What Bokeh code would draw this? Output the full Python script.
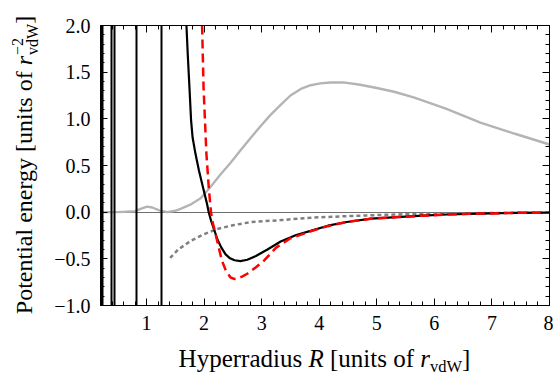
from bokeh.plotting import figure
from bokeh.layouts import row, column
from bokeh.models import Range1d, FixedTicker, LinearAxis, Div
from bokeh.embed import file_html
from bokeh.resources import INLINE

# ---------------- data ----------------
R_range = [0.2, 8.0]
V_range = [-1.0, 2.0]

x_ticks = [1, 2, 3, 4, 5, 6, 7, 8]
x_tick_labels = ["1", "2", "3", "4", "5", "6", "7", "8"]
y_ticks = [-1.0, -0.5, 0.0, 0.5, 1.0, 1.5, 2.0]
y_tick_labels = ["−1.0", "−0.5", "0.0", "0.5", "1.0", "1.5", "2.0"]

x_title = 'Hyperradius <i>R</i> [units of <i>r</i><span class="sb">vdW</span>]'
y_title = ('Potential energy [units of <i>r</i><span class="st"><span>−2</span>'
           '<span>vdW</span></span>]')

# black solid curve: poles at small R, then the main branch
black_poles_R = [0.215, 0.235, 0.386, 0.45, 0.82, 1.265]
black_R = [1.693, 1.715, 1.745, 1.774, 1.80, 1.85, 1.91, 1.98, 2.05, 2.08, 2.12, 2.17, 2.23,
           2.30, 2.37, 2.44, 2.53, 2.63, 2.75, 2.90, 3.10, 3.33, 3.60, 3.85, 4.15, 4.48, 4.90,
           5.35, 5.80, 6.22, 6.80, 7.37, 8.0]
black_V = [2.0, 1.70, 1.34, 0.98, 0.80, 0.625, 0.447, 0.268, 0.09, 0.0, -0.09, -0.18, -0.29,
           -0.38, -0.45, -0.49, -0.515, -0.525, -0.51, -0.47, -0.40, -0.315, -0.245, -0.20,
           -0.145, -0.105, -0.07, -0.053, -0.038, -0.025, -0.015, -0.008, -0.004]

# red dashed curve
red_R = [1.965, 1.99, 2.015, 2.04, 2.08, 2.12, 2.14, 2.19, 2.25, 2.31, 2.38, 2.46, 2.52, 2.57,
         2.66, 2.75, 2.90, 3.04, 3.25, 3.50, 3.85, 4.15, 4.48, 4.90, 5.35, 5.80, 6.22, 6.80,
         7.37, 8.0]
red_V = [2.0, 1.34, 0.98, 0.625, 0.27, 0.0, -0.09, -0.21, -0.37, -0.52, -0.63, -0.70, -0.715,
         -0.71, -0.69, -0.66, -0.59, -0.52, -0.38, -0.28, -0.205, -0.15, -0.105, -0.07, -0.053,
         -0.038, -0.025, -0.015, -0.008, -0.004]

# light gray solid curve
gray_R = [0.2, 0.5, 0.8, 0.92, 1.01, 1.10, 1.22, 1.36, 1.50, 1.59, 1.76, 1.94, 2.11, 2.28,
          2.46, 2.63, 2.80, 2.98, 3.15, 3.33, 3.50, 3.68, 3.85, 4.02, 4.19, 4.42, 4.71, 5.0,
          5.3, 5.64, 6.2, 6.8, 7.4, 8.0]
gray_V = [0.0, 0.0, 0.01, 0.04, 0.06, 0.05, 0.02, 0.0, 0.015, 0.035, 0.08, 0.15, 0.27, 0.40,
          0.53, 0.66, 0.79, 0.92, 1.04, 1.15, 1.25, 1.32, 1.36, 1.38, 1.39, 1.39, 1.365, 1.33,
          1.29, 1.23, 1.11, 0.96, 0.84, 0.725]

# gray dotted curve
dot_R = [1.41, 1.55, 1.76, 2.0, 2.23, 2.5, 2.8, 3.33, 3.9, 4.48, 5.05, 5.64, 6.5, 7.3, 8.0]
dot_V = [-0.49, -0.40, -0.31, -0.235, -0.18, -0.14, -0.107, -0.085, -0.058, -0.043, -0.03,
         -0.02, -0.012, -0.008, -0.005]

zero_level = [0.0]

# ---------------- layout sizes ----------------
YLAB_W = 40
FRAME_L, FRAME_T, FW, FH = 100, 25, 449, 280
MAIN_W = 513
MAIN_H = 342
XLAB_H = 31
TOTAL_W = YLAB_W + MAIN_W

p = figure(width=MAIN_W, height=MAIN_H,
           min_border_left=FRAME_L - YLAB_W, min_border_right=MAIN_W - (FRAME_L - YLAB_W) - FW,
           min_border_top=FRAME_T, min_border_bottom=MAIN_H - FRAME_T - FH,
           x_range=Range1d(*R_range), y_range=Range1d(*V_range),
           output_backend="svg", toolbar_location=None,
           x_axis_location=None, y_axis_location=None)
p.xgrid.visible = False
p.ygrid.visible = False
p.outline_line_color = "black"
p.outline_line_width = 1
p.background_fill_color = "white"
p.border_fill_color = "white"

x_minor = [round(0.2 + 0.2 * i, 2) for i in range(0, 40)]
y_minor = [round(-1.0 + 0.1 * i, 2) for i in range(0, 31)]
xt = FixedTicker(ticks=x_ticks, minor_ticks=x_minor)
yt = FixedTicker(ticks=y_ticks, minor_ticks=y_minor)

TICK_FONT = "Liberation Serif"

def style_axis(ax, show_labels, standoff):
    ax.axis_line_color = "black"
    ax.axis_line_width = 1
    ax.major_tick_in = 7
    ax.major_tick_out = 0
    ax.minor_tick_in = 4
    ax.minor_tick_out = 0
    ax.major_tick_line_color = "black"
    ax.minor_tick_line_color = "black"
    ax.major_tick_line_width = 1
    ax.minor_tick_line_width = 1
    ax.major_label_text_font = TICK_FONT
    if show_labels:
        ax.major_label_text_color = "black"
        ax.major_label_text_font_size = "20px"
        ax.major_label_standoff = standoff
    else:
        ax.major_label_text_color = None
        ax.major_label_text_font_size = "1px"
        ax.major_label_standoff = 0

bottom = LinearAxis(ticker=xt, major_label_overrides=dict(zip(x_ticks, x_tick_labels)))
left = LinearAxis(ticker=yt, major_label_overrides=dict(zip(y_ticks, y_tick_labels)))
top = LinearAxis(ticker=xt)
right = LinearAxis(ticker=yt)
style_axis(bottom, True, 10)
style_axis(left, True, 10)
style_axis(top, False, 0)
style_axis(right, False, 0)
p.add_layout(bottom, "below")
p.add_layout(left, "left")
p.add_layout(top, "above")
p.add_layout(right, "right")

# ---------------- curves ----------------
p.hspan(y=zero_level, line_color="#6e6e6e", line_width=1)
p.line(gray_R, gray_V, line_color="#b4b4b4", line_width=2.4)
p.line(dot_R, dot_V, line_color="#808080", line_width=2.5, line_dash="4 3")
p.vspan(x=black_poles_R, line_color="black", line_width=2)
p.line(black_R, black_V, line_color="black", line_width=2.2)
p.line(red_R, red_V, line_color="#ff0000", line_width=2.5, line_dash="9 5")

# ---------------- axis titles as HTML text (italics, sub/superscripts) ----------------
FONT_CSS = "font-family:'Liberation Serif','Times New Roman',serif; color:#000;"
CSS = ("<style>"
       ".sb{font-size:16.5px; position:relative; top:5px; line-height:0;}"
       ".st{display:inline-block; font-size:16px; line-height:15px; vertical-align:-6px;"
       " margin-left:1px; text-align:left;}"
       ".st span{display:block;}"
       "</style>")

y_center_x = 25
y_center_y = FRAME_T + FH / 2
y_html = (CSS + f'<div style="position:relative; width:{YLAB_W}px; height:{MAIN_H}px;">'
          f'<div style="position:absolute; left:{y_center_x}px; top:{y_center_y}px; {FONT_CSS}'
          ' font-size:24px; line-height:24px; white-space:nowrap;'
          ' transform:translate(-50%,-50%) rotate(-90deg);">'
          + y_title + '</div></div>')

x_center_x = FRAME_L + FW / 2
x_html = (CSS + f'<div style="position:relative; width:{TOTAL_W}px; height:{XLAB_H}px;">'
          f'<div style="position:absolute; left:{x_center_x}px; top:4px; {FONT_CSS}'
          ' font-size:25px; line-height:25px; white-space:nowrap;'
          ' transform:translateX(-50%);">' + x_title + '</div></div>')

ydiv = Div(text=y_html, width=YLAB_W, height=MAIN_H, margin=0,
           styles={"overflow": "visible"})
xdiv = Div(text=x_html, width=TOTAL_W, height=XLAB_H, margin=0,
           styles={"overflow": "visible"})

layout = column(row(ydiv, p, spacing=0), xdiv, spacing=0)
open("out.html", "w").write(file_html(layout, INLINE))
